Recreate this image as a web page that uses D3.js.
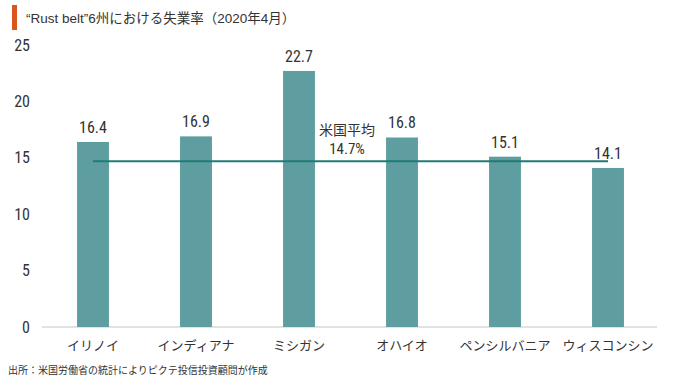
<!DOCTYPE html>
<html>
<head>
<meta charset="utf-8">
<script src="https://cdn.jsdelivr.net/npm/d3@7"></script>
<style>
  body { margin: 0; background: #fff; }
  svg { display: block; }
  .num { font-family: "Liberation Sans Narrow", "Roboto Condensed", "Roboto", sans-serif; }
  .jp { font-family: "Noto Sans CJK JP", sans-serif; }
  .mix { font-family: "Liberation Sans", "Noto Sans CJK JP", sans-serif; }
</style>
</head>
<body>
<svg id="chart"></svg>
<script>
// data
var states = ["イリノイ", "インディアナ", "ミシガン", "オハイオ", "ペンシルバニア", "ウィスコンシン"];
var rates = [16.4, 16.9, 22.7, 16.8, 15.1, 14.1];
var usAverage = 14.7;
var yTicks = [0, 5, 10, 15, 20, 25];

var width = 680, height = 381;
var textColor = "#333333";
var barColor = "#5f9ea0";
var avgColor = "#1f7b78";

var svg = d3.select("#chart")
    .attr("width", width)
    .attr("height", height);

// title with orange marker
svg.append("rect")
    .attr("x", 12).attr("y", 5)
    .attr("width", 5).attr("height", 25)
    .attr("fill", "#d9561f");
svg.append("text")
    .attr("class", "mix")
    .attr("x", 26).attr("y", 23)
    .attr("font-size", 13.5)
    .attr("fill", textColor)
    .text("“Rust belt”6州における失業率（2020年4月）");

//scales
var x = d3.scaleBand()
    .domain(states)
    .range([41.5, 659.5])
    .paddingInner(0.69)
    .paddingOuter(0.345);
var y = d3.scaleLinear()
    .domain([0, 25])
    .range([327, 45]);

// y axis labels
var yAxis = d3.axisLeft(y).tickValues(yTicks).tickSize(0).tickPadding(12);
var yg = svg.append("g")
    .attr("transform", "translate(42,0)")
    .call(yAxis);
yg.select(".domain").remove();
yg.selectAll("text")
    .attr("class", "num")
    .attr("font-size", 16)
    .attr("fill", textColor);

// baseline
svg.append("line")
    .attr("x1", 42).attr("x2", 657)
    .attr("y1", y(0)).attr("y2", y(0))
    .attr("stroke", "#d9d9d9")
    .attr("stroke-width", 1.5);

// bars
svg.selectAll(".bar")
    .data(rates)
    .enter().append("rect")
    .attr("class", "bar")
    .attr("x", (d, i) => x(states[i]))
    .attr("width", x.bandwidth())
    .attr("y", d => y(d))
    .attr("height", d => y(0) - y(d))
    .attr("fill", barColor);

// value labels
svg.selectAll(".label")
    .data(rates)
    .enter().append("text")
    .attr("class", "label num")
    .attr("x", (d, i) => x(states[i]) + x.bandwidth() / 2)
    .attr("y", d => y(d) - 9)
    .attr("text-anchor", "middle")
    .attr("font-size", 16)
    .attr("fill", textColor)
    .text(d => d.toFixed(1));

// category labels
var xAxis = d3.axisBottom(x).tickSize(0).tickPadding(14);
var xg = svg.append("g")
    .attr("transform", "translate(0," + y(0) + ")")
    .call(xAxis);
xg.select(".domain").remove();
xg.selectAll("text")
    .attr("class", "jp")
    .attr("font-size", 13)
    .attr("fill", textColor);

// US average line
var first = states[0], last = states[states.length - 1];
svg.append("line")
    .attr("x1", x(first) + x.bandwidth() / 2)
    .attr("x2", x(last) + x.bandwidth() / 2)
    .attr("y1", y(usAverage)).attr("y2", y(usAverage))
    .attr("stroke", avgColor)
    .attr("stroke-width", 2);

svg.append("text")
    .attr("class", "jp")
    .attr("x", 347).attr("y", 135)
    .attr("text-anchor", "middle")
    .attr("font-size", 14)
    .attr("fill", textColor)
    .text("米国平均");
svg.append("text")
    .attr("class", "num")
    .attr("x", 347).attr("y", 154)
    .attr("text-anchor", "middle")
    .attr("font-size", 15)
    .attr("fill", textColor)
    .text(usAverage + "%");

// source
svg.append("text")
    .attr("class", "jp")
    .attr("x", 8).attr("y", 374)
    .attr("font-size", 10)
    .attr("fill", textColor)
    .text("出所：米国労働省の統計によりピクテ投信投資顧問が作成");
</script>
</body>
</html>
